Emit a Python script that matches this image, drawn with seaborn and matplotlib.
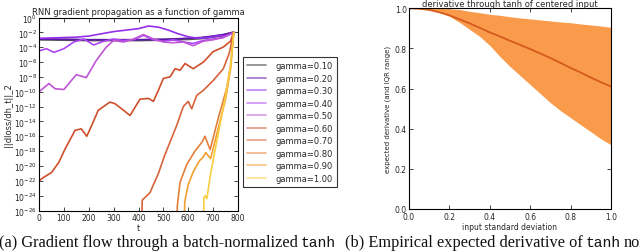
import matplotlib
matplotlib.use("Agg")
import matplotlib.pyplot as plt
import matplotlib.ticker as mticker
import numpy as np
import pandas as pd
import seaborn as sns

# (a) log10 of ||dloss/dh_t||_2, one curve per gamma
gamma_labels = ['gamma=0.10', 'gamma=0.20', 'gamma=0.30', 'gamma=0.40', 'gamma=0.50',
                'gamma=0.60', 'gamma=0.70', 'gamma=0.80', 'gamma=0.90', 'gamma=1.00']

t_g01 = [0, 100, 200, 300, 400, 500, 600, 650, 700, 740, 783]
g01 = [-2.95, -3.0, -3.05, -3.05, -3.05, -3.0, -2.9, -2.8, -2.6, -2.4, -2.0]

t_g02 = [0, 100, 200, 300, 400, 500, 600, 650, 700, 740, 783]
g02 = [-2.9, -2.95, -3.0, -3.0, -3.0, -2.95, -2.8, -2.7, -2.5, -2.3, -2.0]

t_g03 = [0, 50, 100, 150, 200, 250, 300, 350, 400, 440, 480, 520, 560, 600, 640, 680, 720, 760, 783]
g03 = [-2.8, -2.75, -2.7, -2.65, -2.5, -2.2, -1.9, -1.7, -1.5, -1.15, -1.3, -1.7, -2.2, -2.6,
       -2.8, -2.7, -2.5, -2.4, -2.0]

t_g04 = [0, 30, 60, 100, 140, 180, 220, 260, 300, 340, 380, 420, 460, 500, 540, 580, 620,
         660, 700, 740, 783]
g04 = [-4.5, -4.2, -4.7, -4.2, -3.3, -2.9, -3.7, -3.2, -2.9, -3.1, -3.0, -2.4, -3.0, -3.2,
       -3.0, -3.3, -3.5, -3.1, -2.9, -2.7, -2.0]

t_g05 = [0, 40, 65, 100, 150, 190, 230, 270, 300, 340, 380, 420, 460, 500, 540, 580, 620,
         660, 700, 740, 783]
g05 = [-10.0, -8.9, -9.6, -9.7, -7.7, -8.1, -5.8, -4.0, -3.1, -3.3, -2.9, -2.3, -2.9, -3.3,
       -3.4, -3.3, -3.8, -3.2, -3.0, -2.7, -2.0]

t_g06 = [0, 20, 50, 80, 105, 145, 170, 192, 215, 238, 285, 305, 340, 366, 406, 440, 460,
         480, 500, 527, 547, 567, 587, 620, 661, 700, 740, 770, 783]
g06 = [-22.0, -21.5, -20.9, -19.5, -17.7, -15.2, -15.0, -16.0, -14.3, -12.5, -11.4, -11.6,
       -12.5, -13.2, -11.0, -10.9, -11.3, -9.8, -8.2, -8.0, -6.9, -7.1, -6.2, -6.9, -6.0,
       -4.6, -4.0, -3.2, -2.0]

t_g07 = [412, 415, 446, 480, 506, 530, 553, 580, 600, 614, 634, 661, 700, 741, 765, 783]
g07 = [-30.0, -24.6, -23.6, -21.0, -18.5, -16.5, -14.6, -12.0, -11.3, -12.3, -10.5, -9.8,
       -8.5, -6.9, -4.8, -2.0]

t_g08 = [553, 556, 567, 594, 627, 655, 667, 688, 721, 755, 770, 783]
g08 = [-30.0, -25.4, -22.2, -19.8, -18.0, -16.8, -16.0, -17.8, -13.5, -9.5, -6.5, -2.0]

t_g09 = [582, 586, 600, 620, 645, 660, 670, 690, 720, 750, 770, 783]
g09 = [-30.0, -24.8, -22.5, -20.8, -19.3, -18.8, -18.2, -19.0, -15.0, -11.0, -7.0, -2.0]

t_g10 = [660, 663, 668, 675, 690, 710, 730, 750, 770, 783]
g10 = [-30.0, -24.3, -24.0, -24.4, -21.0, -17.5, -14.0, -10.5, -6.5, -2.0]

# (b) expected derivative of tanh, median and interquartile range
sigma = [0.0, 0.05, 0.1, 0.15, 0.2, 0.25, 0.3, 0.35, 0.4, 0.45, 0.5,
         0.55, 0.6, 0.65, 0.7, 0.75, 0.8, 0.85, 0.9, 0.95, 1.0]
deriv_median = [1.0, 0.998, 0.992, 0.98, 0.965, 0.945, 0.925, 0.903, 0.88, 0.86, 0.838,
                0.818, 0.797, 0.775, 0.752, 0.728, 0.703, 0.68, 0.655, 0.632, 0.61]
deriv_q25 = [1.0, 0.998, 0.993, 0.982, 0.96, 0.93, 0.895, 0.86, 0.815, 0.76, 0.71,
             0.665, 0.62, 0.575, 0.53, 0.49, 0.455, 0.42, 0.385, 0.35, 0.32]
deriv_q75 = [1.0, 1.0, 1.0, 1.0, 0.998, 0.994, 0.985, 0.978, 0.97, 0.965, 0.958,
             0.952, 0.947, 0.942, 0.937, 0.932, 0.928, 0.922, 0.917, 0.912, 0.905]

curve_colors = ['#353535', '#5e18b0', '#9430ea', '#ad45f5', '#c055d6',
                '#cf4f2b', '#d8633a', '#e47f3a', '#f09f30', '#f8cd40']

W, H = 640, 253
sns.set_style("ticks", {"xtick.direction": "in", "ytick.direction": "in",
                        "axes.edgecolor": "black"})
plt.rcParams['font.family'] = ['DejaVu Sans']

fig = plt.figure(figsize=(W / 100, H / 100), dpi=100)

# ---- (a) gradient propagation
frames = []
for lab, tt, vv in zip(gamma_labels,
                       [t_g01, t_g02, t_g03, t_g04, t_g05, t_g06, t_g07, t_g08, t_g09, t_g10],
                       [g01, g02, g03, g04, g05, g06, g07, g08, g09, g10]):
    frames.append(pd.DataFrame({'t': tt, 'norm': np.power(10.0, vv), 'gamma': lab}))
grad = pd.concat(frames, ignore_index=True)

ax1 = fig.add_axes([39 / W, 1 - 211.5 / H, 199 / W, 193 / H])
sns.lineplot(data=grad, x='t', y='norm', hue='gamma', hue_order=gamma_labels,
             palette=dict(zip(gamma_labels, curve_colors)), estimator=None,
             linewidth=1.2, ax=ax1)
ax1.lines[0].set_linewidth(1.8)
ax1.lines[0].set_alpha(0.85)
ax1.set_yscale('log')
ax1.set_xlim(0, 800)
ax1.set_ylim(1e-26, 1e0)
ax1.yaxis.set_major_locator(mticker.FixedLocator([10.0 ** k for k in range(-26, 1, 2)]))
ax1.yaxis.set_minor_locator(mticker.NullLocator())
ax1.xaxis.set_major_locator(mticker.MultipleLocator(100))
ax1.set_title('RNN gradient propagation as a function of gamma', fontsize=6, pad=2.5)
ax1.set_xlabel('t', fontsize=6, labelpad=1)
ax1.set_ylabel('||dloss/dh_t||_2', fontsize=6, labelpad=1)
ax1.tick_params(labelsize=5.5, length=3, width=0.6, top=True, right=True, pad=1.5)

leg = ax1.legend(loc='upper left', bbox_to_anchor=(243 / W, 1 - 58 / H),
                 bbox_transform=fig.transFigure, fontsize=6, frameon=True,
                 fancybox=False, borderaxespad=0, handlelength=2.2, labelspacing=0.42,
                 borderpad=0.5, handletextpad=1.2)
leg.get_frame().set_edgecolor('black')
leg.get_frame().set_linewidth(0.8)
for line in leg.get_lines():
    line.set_alpha(0.6)
    line.set_linewidth(1.2)

# ---- (b) expected derivative through tanh
ax2 = fig.add_axes([409 / W, 1 - 210 / H, 202 / W, 200.7 / H])
ax2.fill_between(sigma, deriv_q25, deriv_q75, color='#f99b4b', linewidth=0)
sns.lineplot(x=sigma, y=deriv_median, color='#d45a1e', linewidth=1.3, ax=ax2)
ax2.set_xlim(0, 1)
ax2.set_ylim(0, 1)
ax2.xaxis.set_major_locator(mticker.MultipleLocator(0.2))
ax2.yaxis.set_major_locator(mticker.MultipleLocator(0.2))
ax2.xaxis.set_major_formatter(mticker.FormatStrFormatter('%.1f'))
ax2.yaxis.set_major_formatter(mticker.FormatStrFormatter('%.1f'))
ax2.set_title('derivative through tanh of centered input', fontsize=6, pad=1.5)
ax2.set_xlabel('input standard deviation', fontsize=5.5, labelpad=1)
ax2.set_ylabel('expected derivative (and IQR range)', fontsize=5, labelpad=3)
ax2.tick_params(labelsize=5.5, length=3, width=0.6, top=True, right=True, pad=1.5)
ax2.tick_params(axis='x', pad=2)

for ax in (ax1, ax2):
    for s in ax.spines.values():
        s.set_linewidth(0.8)
        s.set_color('black')

# ---- sub-figure captions (serif, with tanh in typewriter)
renderer = fig.canvas.get_renderer()
cap_y = 1 - 243 / H


def caption(x_px, parts):
    for text, fam, size in parts:
        t = fig.text(x_px / W, cap_y, text, family=fam, fontsize=size, va='center',
                     ha='left', color='#111111')
        x_px += t.get_window_extent(renderer=renderer).width + 3


caption(-1, [('(a) Gradient flow through a batch-normalized', 'Liberation Serif', 11.8),
             ('tanh', 'Liberation Mono', 10.5)])
caption(345, [('(b) Empirical expected derivative of', 'Liberation Serif', 11.8),
              ('tanh', 'Liberation Mono', 10.5), ('non-linearity', 'Liberation Serif', 11.8)])

fig.savefig('out.png', dpi=100)
